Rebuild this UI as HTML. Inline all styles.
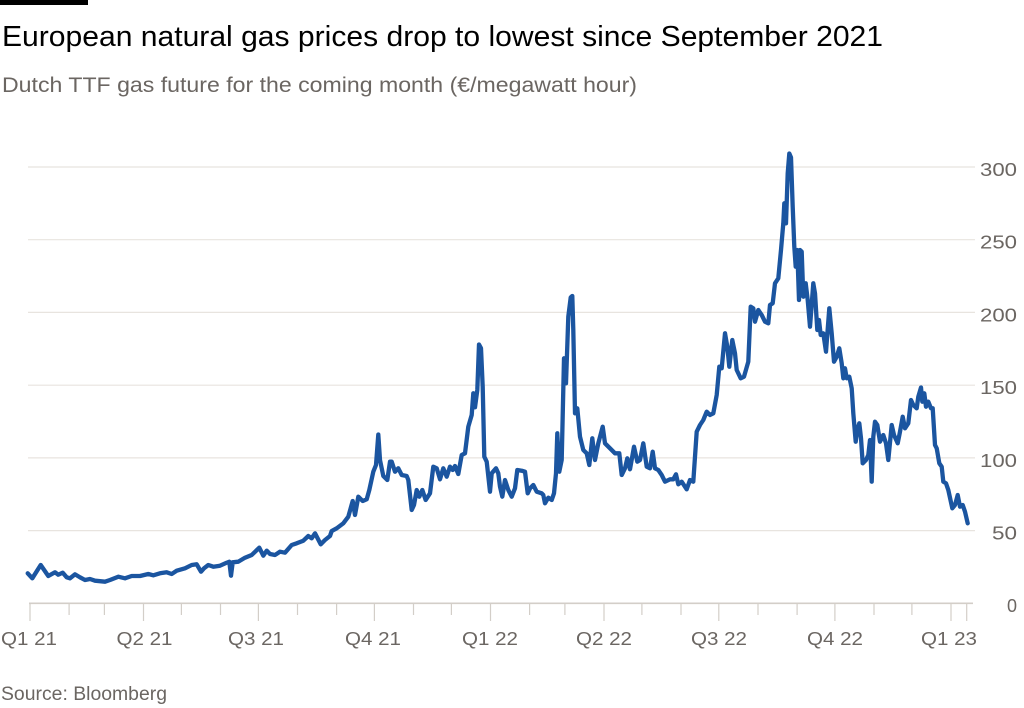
<!DOCTYPE html>
<html>
<head>
<meta charset="utf-8">
<style>
  html, body { margin: 0; padding: 0; background: #ffffff; }
  svg { display: block; }
  text { font-family: "Liberation Sans", "DejaVu Sans", sans-serif; }
</style>
</head>
<body>
<svg width="1024" height="708" viewBox="0 0 1024 708" xmlns="http://www.w3.org/2000/svg">
  <rect x="0" y="0" width="1024" height="708" fill="#ffffff"/>
  <!-- top bar -->
  <rect x="0" y="0" width="88" height="5" fill="#000000"/>
  <!-- title -->
  <text x="2" y="46" font-size="29" fill="#000000" textLength="881" lengthAdjust="spacingAndGlyphs">European natural gas prices drop to lowest since September 2021</text>
  <text x="2" y="92" font-size="21" fill="#6b6662" textLength="635" lengthAdjust="spacingAndGlyphs">Dutch TTF gas future for the coming month (€/megawatt hour)</text>

  <!-- gridlines -->
  <g stroke="#e8e4df" stroke-width="1.2">
    <line x1="28" y1="530.6" x2="975" y2="530.6"/>
    <line x1="28" y1="457.9" x2="975" y2="457.9"/>
    <line x1="28" y1="385.2" x2="975" y2="385.2"/>
    <line x1="28" y1="312.4" x2="975" y2="312.4"/>
    <line x1="28" y1="239.7" x2="975" y2="239.7"/>
    <line x1="28" y1="167" x2="975" y2="167"/>
  </g>

  <!-- y labels -->
  <g font-size="18" fill="#6b6662" text-anchor="end">
    <text x="1017" y="176" textLength="37" lengthAdjust="spacingAndGlyphs">300</text>
    <text x="1017" y="248.7" textLength="37" lengthAdjust="spacingAndGlyphs">250</text>
    <text x="1017" y="321.4" textLength="37" lengthAdjust="spacingAndGlyphs">200</text>
    <text x="1017" y="394.2" textLength="37" lengthAdjust="spacingAndGlyphs">150</text>
    <text x="1017" y="466.9" textLength="37" lengthAdjust="spacingAndGlyphs">100</text>
    <text x="1017" y="539.6" textLength="25" lengthAdjust="spacingAndGlyphs">50</text>
    <text x="1017" y="611.8">0</text>
  </g>

  <!-- baseline -->
  <line x1="29" y1="603.3" x2="973" y2="603.3" stroke="#d3cec8" stroke-width="1.6"/>
  <!-- month ticks -->
  <g stroke="#d3cec8" stroke-width="1.2">
    <line x1="69.1" y1="603" x2="69.1" y2="615"/>
    <line x1="104.4" y1="603" x2="104.4" y2="615"/>
    <line x1="181.4" y1="603" x2="181.4" y2="615"/>
    <line x1="220.5" y1="603" x2="220.5" y2="615"/>
    <line x1="297.5" y1="603" x2="297.5" y2="615"/>
    <line x1="336.6" y1="603" x2="336.6" y2="615"/>
    <line x1="413.5" y1="603" x2="413.5" y2="615"/>
    <line x1="451.4" y1="603" x2="451.4" y2="615"/>
    <line x1="529.6" y1="603" x2="529.6" y2="615"/>
    <line x1="564.9" y1="603" x2="564.9" y2="615"/>
    <line x1="641.9" y1="603" x2="641.9" y2="615"/>
    <line x1="681" y1="603" x2="681" y2="615"/>
    <line x1="758" y1="603" x2="758" y2="615"/>
    <line x1="797.1" y1="603" x2="797.1" y2="615"/>
    <line x1="874" y1="603" x2="874" y2="615"/>
    <line x1="911.9" y1="603" x2="911.9" y2="615"/>
  </g>
  <!-- quarter ticks -->
  <g stroke="#d3cec8" stroke-width="1.2">
    <line x1="30" y1="603" x2="30" y2="621"/>
    <line x1="143.5" y1="603" x2="143.5" y2="621"/>
    <line x1="258.4" y1="603" x2="258.4" y2="621"/>
    <line x1="374.4" y1="603" x2="374.4" y2="621"/>
    <line x1="490.5" y1="603" x2="490.5" y2="621"/>
    <line x1="604" y1="603" x2="604" y2="621"/>
    <line x1="718.8" y1="603" x2="718.8" y2="621"/>
    <line x1="834.9" y1="603" x2="834.9" y2="621"/>
    <line x1="951" y1="603" x2="951" y2="621"/>
    <line x1="966.7" y1="603" x2="966.7" y2="621"/>
  </g>

  <!-- x labels -->
  <g font-size="18" fill="#6b6662" text-anchor="middle">
    <text x="29" y="645" textLength="56" lengthAdjust="spacingAndGlyphs">Q1 21</text>
    <text x="144.5" y="645" textLength="56" lengthAdjust="spacingAndGlyphs">Q2 21</text>
    <text x="256" y="645" textLength="56" lengthAdjust="spacingAndGlyphs">Q3 21</text>
    <text x="373" y="645" textLength="56" lengthAdjust="spacingAndGlyphs">Q4 21</text>
    <text x="490" y="645" textLength="56" lengthAdjust="spacingAndGlyphs">Q1 22</text>
    <text x="604" y="645" textLength="56" lengthAdjust="spacingAndGlyphs">Q2 22</text>
    <text x="719" y="645" textLength="56" lengthAdjust="spacingAndGlyphs">Q3 22</text>
    <text x="835" y="645" textLength="56" lengthAdjust="spacingAndGlyphs">Q4 22</text>
    <text x="949" y="645" textLength="56" lengthAdjust="spacingAndGlyphs">Q1 23</text>
  </g>

  <!-- source -->
  <text x="1" y="700" font-size="19" fill="#6b6662" textLength="166" lengthAdjust="spacingAndGlyphs">Source: Bloomberg</text>

  <!-- series -->
  <polyline fill="none" stroke="#1b55a0" stroke-width="4.3" stroke-linejoin="round" stroke-linecap="round" points="
27.7,573.3 32.3,578.3 40.7,565 48.3,576 55,572.3 58.3,574.7 62.7,572.7 66.7,577.3 70,578.3 75,574.3 80,577.3 85,580 90,579 95,580.7 105,581.7 110,580 118.3,576.7 125,578.3 131.7,576 140,576 148.3,574 153.3,575.3 160,573.3 166.7,572.3 171.7,574 176.7,570.7 185,568.3 191.7,565 196.7,564.3 201,571.7 204,568.3 208.3,565 213.3,566.7 220,565.7 226.7,562.7 229.3,561.7 231,575.7 232.7,562.3 238.3,561.7 245,557.7 251.7,555 259.3,547.7 263.3,555.7 266.7,550.7 270,554 275,555 280,551.7 285,552.7 291.7,545 296.7,543.3 303.3,540.7 308.3,536 311.7,538.3 315,533.3 320.7,544.3 325,540 330,536 331.7,531 336.7,528.3 343.3,523.3 348.3,516.7 352.7,501 355,515 358.3,496.7 362.7,501 366.7,499.3 369.3,490 373.3,471.7 376,465 378.3,434.5 380,460 383.3,476 387.3,480
390,461.7 391.7,461.7 395,471.7 398.3,468.3 401.7,475 406.7,476 408.3,480 411.7,510 414,505 416.7,490 419.3,496.7 422.3,490 425.7,500 430,493.3 433.3,466.7 436.7,468.3 440,479.3 443.3,468.3 446.7,476.7 450,466.7 452.7,470 455,466 458.3,474 461.7,455 465,453.3 468.3,426.7 471.7,415 473.3,393.3 475,407.3 477.3,390 479,344.5 481,348.3 482.7,386.7 484.3,456.7 486.7,461.7 490,491.7 491.7,473.3 496,468.3 498.3,473.3 500,486.7 502.3,496.7 505,480 508.3,490 511.7,496.7 515,488.3 517.3,470 521.7,470.7 525,471.7 527.7,493.3 530,488.3 533.3,485 536.7,491.7 541.7,493.3 543.3,495 545,503.3 548.3,497.7 551.7,500 554,493.3 556,473.3
557.3,433.3 559.3,471.7 561.7,460 564,358.3 566,383.3 568.3,316.7 570.7,297.5 572.3,296 573.3,330 575,413.3 577.3,408.3 580,436.7 583.3,450 586.7,453.3 589.3,465 592.3,438.3 595,460 598.3,443.3 602.7,426.7 605,443.3 610,448.3 615,453.3 619.3,453.3 621.7,475 625,468.3 627.3,458.3 630,469.3 634,446.7 637.3,461.7 640,460 643.3,443.3 646.7,466.7 650,468.3 652.7,451.7 655,468.3 658.3,470 661.7,475 665,481.7 670,479.3 673.3,479.3 676,474.3 678.3,484.3 681.7,481.7 686.7,489.3 690,480 693.3,481.7 696.7,431.7 700,425 703.3,420 706.7,411.7 710,415 713.3,413.3 716.7,395
719.3,366.7 721.7,368.3 725,333.3 727.3,346.7 729.3,366.7 732.3,340 735,353.3 736.7,370 740.7,378.3 744,376.7 748.3,361.7 750.7,306.7 753.3,308.3 755,321.7 758.3,310 761.7,315 765,321.7 768.3,323.3 770,305 772.7,303.3 775,283.3 778.3,278.3 781,250 783.3,223.3 784.3,203.3 786,223.3 787.7,173.3 789.3,153.5 791,157.5 792.7,206.7 794.3,246.7 795.7,266.7 797.3,250 799,300 800,250 801.7,251.7 803.3,296.7 805.7,283.3 807.7,300 810,326.7 813.3,283.3 815,293.3 817.3,330 819,320 820.7,335 823.3,333.3 826,351.7 829.3,308.3 831.7,333.3 834,361.7 836.7,356.7 839.3,348.3 841.7,363.3
843.3,378.3 845,368.3 846.7,378.3 849.3,376.7 851.7,388.3 853.3,413.3 855.7,441.7 857.3,430 859.3,423.3 861,438.3 862.7,463.3 866,460 868.3,455 870,440 871.7,481.7 873.3,436.7 875,421.7 877.3,425 880,441.7 883.3,435 886,443.3 888.3,460 891.7,425 894,435 897.7,443.3 900,431.7 902.7,416.7 905,428.3 908.3,423.3 911,400 913.3,405 916.7,408.3 918.3,396.7 921,387.5 922.3,401.7 924.3,393.3 926,406.7 928.3,401.7 931,408.3 932.7,408.3 935,445 936.7,448.3 939.3,463.3 941.7,466.7 943.3,481.7 946,483.3 948.3,490 952.3,508.3 955,505 957.7,495 960,506.7 962.7,505 965,511.7 967.7,523.3"/>
</svg>
</body>
</html>
